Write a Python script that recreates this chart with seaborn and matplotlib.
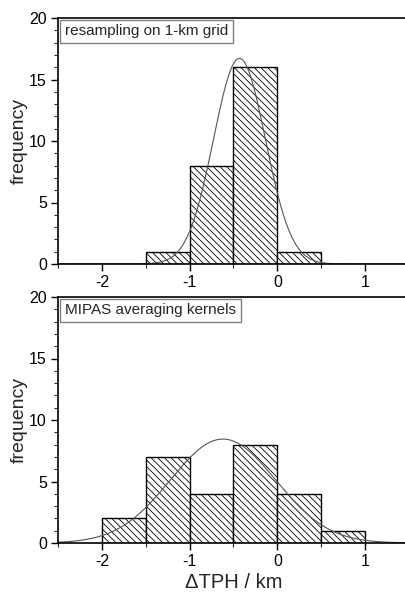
import numpy as np
import pandas as pd
import matplotlib
matplotlib.use("Agg")
import matplotlib.pyplot as plt
from matplotlib.ticker import MultipleLocator
import seaborn as sns

# Histogram bins (km) and counts for the two retrieval set-ups
bin_edges = [-2.0, -1.5, -1.0, -0.5, 0.0, 0.5, 1.0]
counts_resampling = [0, 1, 8, 16, 1, 0]
counts_kernels = [2, 7, 4, 8, 4, 1]

# Gaussian fit parameters (amplitude, centre, width)
fit_resampling = (16.72, -0.432, 0.296)
fit_kernels = (8.45, -0.62, 0.60)

panel_titles = ["resampling on 1-km grid", "MIPAS averaging kernels"]
xlabel = "\u0394TPH / km"
ylabel = "frequency"

sns.set_theme(style="ticks")
plt.rcParams["font.family"] = ["Liberation Sans", "DejaVu Sans"]
plt.rcParams["axes.unicode_minus"] = False
plt.rcParams["hatch.linewidth"] = 0.6
plt.rcParams["hatch.color"] = "#333333"

fig = plt.figure(figsize=(4.06, 5.98), dpi=100)
W, H = 406, 598
ax_left, ax_width = 58 / W, 351 / W
ax_height = 246 / H
axes = [fig.add_axes([ax_left, (H - 264) / H, ax_width, ax_height]),
        fig.add_axes([ax_left, (H - 543) / H, ax_width, ax_height])]

centers = [(a + b) / 2 for a, b in zip(bin_edges[:-1], bin_edges[1:])]
xs = np.linspace(-2.5, 1.5, 400)

for ax, counts, fit, title in zip(axes, [counts_resampling, counts_kernels],
                                  [fit_resampling, fit_kernels], panel_titles):
    df = pd.DataFrame({"x": centers, "n": counts})
    sns.histplot(data=df, x="x", weights="n", bins=bin_edges, ax=ax,
                 stat="count", element="bars", fill=True,
                 facecolor="white", edgecolor="black", linewidth=1.0, alpha=1)
    for p in ax.patches:
        if p.get_height() > 0:
            p.set_hatch("\\\\\\\\\\")
        else:
            p.set_visible(False)
    amp, mu, sig = fit
    curve = pd.DataFrame({"x": xs, "y": amp * np.exp(-(xs - mu) ** 2 / (2 * sig ** 2))})
    sns.lineplot(data=curve, x="x", y="y", ax=ax, color="#555555", linewidth=0.8)

    ax.set_xlim(-2.5, 1.5)
    ax.set_ylim(0, 20)
    ax.xaxis.set_major_locator(MultipleLocator(1))
    ax.xaxis.set_minor_locator(MultipleLocator(0.5))
    ax.yaxis.set_major_locator(MultipleLocator(5))
    ax.yaxis.set_minor_locator(MultipleLocator(1))
    ax.tick_params(which="major", direction="out", length=5, width=1.0,
                   labelsize=11.5, colors="black", pad=3)
    ax.tick_params(which="minor", direction="out", length=3, width=0.8)
    ax.tick_params(axis="x", which="both", top=False)
    ax.tick_params(axis="y", which="both", right=False)
    for side in ["left", "bottom", "top"]:
        ax.spines[side].set_visible(True)
        ax.spines[side].set_linewidth(1.2)
        ax.spines[side].set_color("black")
    ax.spines["right"].set_visible(False)
    ax.set_xlabel("")
    ax.set_ylabel(ylabel, fontsize=14, labelpad=1)
    ax.text(0.02, 0.975, title, transform=ax.transAxes, ha="left", va="top",
            fontsize=11,
            bbox=dict(boxstyle="square,pad=0.3", facecolor="white",
                      edgecolor="#808080", linewidth=1.0))

axes[1].set_xlabel(xlabel, fontsize=14.5, labelpad=3)

fig.savefig("out.png", dpi=100)
